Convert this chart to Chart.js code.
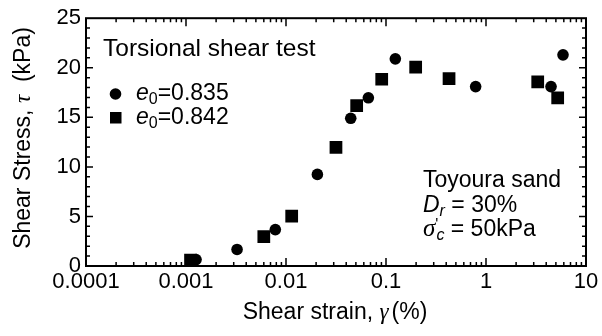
<!doctype html>
<html lang="en">
<head>
<meta charset="utf-8">
<title>Shear stress vs shear strain</title>
<style>
  * { margin: 0; padding: 0; }
  body { background: #fff; }
  .chartBox { width: 602px; height: 336px; }
</style>
</head>
<body>
<div class="chartBox"><canvas id="myChart"></canvas></div>
<script src="https://cdn.jsdelivr.net/npm/chart.js/dist/chart.umd.min.js"></script>
<script>
// values (strain in %, stress in kPa)
const strain835 = [0.00126, 0.00324, 0.00782, 0.0206, 0.0444, 0.0666, 0.124, 0.788, 4.47, 5.89];
const stress835 = [0.65, 1.67, 3.67, 9.24, 14.9, 16.97, 20.9, 18.1, 18.1, 21.3];
const strain842 = [0.00111, 0.0060, 0.0114, 0.0316, 0.0509, 0.0906, 0.198, 0.427, 3.29, 5.21];
const stress842 = [0.6, 2.97, 5.04, 11.97, 16.17, 18.84, 20.07, 18.9, 18.57, 16.97];
const xTicks = [0.0001, 0.001, 0.01, 0.1, 1, 10];
const yTicks = [0, 5, 10, 15, 20, 25];

const FONT = "'Liberation Sans', Arial, sans-serif";
const SERIF = "'Liberation Serif', 'DejaVu Serif', serif";

function pts(xs, ys) {
    return xs.map((v, i) => ({ x: v, y: ys[i] }));
}

// draw a line of text made of runs with different fonts
function drawRuns(ctx, x, y, runs, align) {
    let w = 0;
    runs.forEach(r => { ctx.font = r.font; w += ctx.measureText(r.t).width + (r.dx || 0); });
    let cx = align === 'center' ? x - w / 2 : x;
    runs.forEach(r => {
        ctx.font = r.font;
        ctx.fillText(r.t, cx, y + (r.dy || 0));
        cx += ctx.measureText(r.t).width + (r.dx || 0);
    });
}

const frame = {
    id: 'frame',
    beforeDatasetsDraw(chart) {
        const { ctx, chartArea: a, scales: { x, y } } = chart;
        ctx.save();
        ctx.strokeStyle = '#000';
        ctx.lineWidth = 1.5;
        ctx.beginPath();
        // y ticks, inward on left and right
        for (let v = 1; v < 25; v++) {
            const p = y.getPixelForValue(v);
            const len = v % 5 === 0 ? 7 : 4;
            ctx.moveTo(a.left, p); ctx.lineTo(a.left + len, p);
            ctx.moveTo(a.right, p); ctx.lineTo(a.right - len, p);
        }
        // x ticks, inward on bottom and top
        xTicks.forEach((d, i) => {
            const p = x.getPixelForValue(d);
            if (i > 0 && i < xTicks.length - 1) {
                ctx.moveTo(p, a.bottom); ctx.lineTo(p, a.bottom - 8);
                ctx.moveTo(p, a.top); ctx.lineTo(p, a.top + 8);
            }
            if (i === xTicks.length - 1) return;
            for (let m = 2; m <= 9; m++) {
                const q = x.getPixelForValue(d * m);
                ctx.moveTo(q, a.bottom); ctx.lineTo(q, a.bottom - 4);
                ctx.moveTo(q, a.top); ctx.lineTo(q, a.top + 4);
            }
        });
        ctx.stroke();
        ctx.lineWidth = 2;
        ctx.strokeRect(a.left, a.top, a.right - a.left, a.bottom - a.top);
        ctx.restore();
    },
    afterDraw(chart) {
        const ctx = chart.ctx;
        const n = '23px ' + FONT, it = 'italic 23px ' + FONT, sub = '16px ' + FONT, subIt = 'italic 16px ' + FONT;
        ctx.save();
        ctx.fillStyle = '#000';
        ctx.textBaseline = 'alphabetic';

        // axis titles
        drawRuns(ctx, 335, 319, [
            { t: 'Shear strain, ', font: n },
            { t: 'γ', font: 'italic 23px ' + SERIF, dx: 3 },
            { t: '(%)', font: n }
        ], 'center');
        ctx.save();
        ctx.translate(29.5, 138);
        ctx.rotate(-Math.PI / 2);
        drawRuns(ctx, 0, 0, [
            { t: 'Shear Stress, ', font: n },
            { t: 'τ', font: 'italic 23px ' + SERIF },
            { t: '  (kPa)', font: n }
        ], 'center');
        ctx.restore();

        // legend block
        drawRuns(ctx, 103, 56, [{ t: 'Torsional shear test', font: '24.5px ' + FONT }]);
        ctx.beginPath();
        ctx.arc(115.5, 94, 5.8, 0, Math.PI * 2);
        ctx.fill();
        ctx.fillRect(110, 112, 11.5, 11.5);
        drawRuns(ctx, 136, 99.5, [
            { t: 'e', font: it }, { t: '0', font: sub, dy: 4 }, { t: '=0.835', font: n }
        ]);
        drawRuns(ctx, 136, 123.5, [
            { t: 'e', font: it }, { t: '0', font: sub, dy: 4 }, { t: '=0.842', font: n }
        ]);

        // sample info
        drawRuns(ctx, 423, 187, [{ t: 'Toyoura sand', font: n }]);
        drawRuns(ctx, 423, 212, [
            { t: 'D', font: it }, { t: 'r', font: subIt, dy: 4 }, { t: ' = 30%', font: n }
        ]);
        drawRuns(ctx, 423, 236, [
            { t: 'σ', font: 'italic 25px ' + SERIF }, { t: '\'', font: '16px ' + FONT, dx: -2, dy: -6 },
            { t: 'c', font: subIt, dy: 4 }, { t: ' = 50kPa', font: n }
        ]);
        ctx.restore();
    }
};

const config = {
    type: 'scatter',
    data: {
        datasets: [
            {
                label: 'e0=0.835',
                data: pts(strain835, stress835),
                pointStyle: 'circle',
                pointRadius: 5.8,
                pointHoverRadius: 5.8,
                backgroundColor: '#000',
                borderWidth: 0
            },
            {
                label: 'e0=0.842',
                data: pts(strain842, stress842),
                pointStyle: 'rect',
                pointRadius: 9,
                pointHoverRadius: 9,
                backgroundColor: '#000',
                borderWidth: 0
            }
        ]
    },
    options: {
        responsive: true,
        maintainAspectRatio: false,
        animation: false,
        devicePixelRatio: 1,
        events: [],
        layout: { padding: { top: 15, right: 16, left: 0, bottom: 0 } },
        plugins: { legend: { display: false }, tooltip: { enabled: false } },
        scales: {
            x: {
                type: 'logarithmic',
                min: 0.0001,
                max: 10,
                grid: { display: false, drawTicks: false },
                border: { display: false },
                afterBuildTicks: s => { s.ticks = xTicks.map(v => ({ value: v })); },
                afterFit: s => { s.height = 70; },
                ticks: {
                    color: '#000',
                    font: { family: FONT, size: 22 },
                    padding: 3,
                    maxRotation: 0,
                    autoSkip: false,
                    callback: v => String(v)
                }
            },
            y: {
                min: 0,
                max: 25,
                grid: { display: false, drawTicks: false },
                border: { display: false },
                afterBuildTicks: s => { s.ticks = yTicks.map(v => ({ value: v })); },
                afterFit: s => { s.width = 86; },
                ticks: {
                    color: '#000',
                    font: { family: FONT, size: 22 },
                    padding: 5
                }
            }
        }
    },
    plugins: [frame]
};

new Chart(document.getElementById('myChart'), config);
</script>
</body>
</html>
